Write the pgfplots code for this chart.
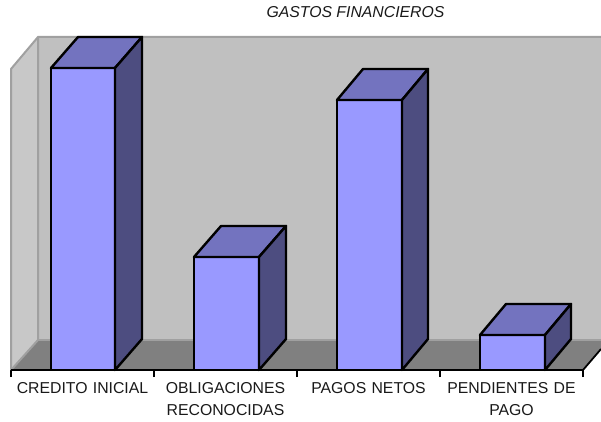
\documentclass[border=0pt]{standalone}
\usepackage{pgfplots}
\pgfplotsset{compat=1.18}
\usepackage{fontspec}
\setmainfont{Liberation Sans}
\definecolor{front}{HTML}{9999FF}
\definecolor{topc}{HTML}{7373BF}
\definecolor{sidec}{HTML}{4D4D80}
\definecolor{wall}{HTML}{C0C0C0}
\definecolor{swall}{HTML}{C8C8C8}
\definecolor{floorc}{HTML}{808080}
\definecolor{edge}{HTML}{A0A0A0}
\begin{document}
\begin{tikzpicture}[x=1pt,y=1pt]
\useasboundingbox (0,0) rectangle (601pt,421pt);
\begin{axis}[
  at={(0pt,0pt)},anchor=south west,
  scale only axis,width=601pt,height=421pt,
  xmin=0,xmax=601,ymin=-51,ymax=370,
  axis x line=middle,axis y line=none,
  axis line style={-,draw=none},
  xtick={82.5,225.5,368.5,511.5},
  xticklabels={{CREDITO INICIAL},{OBLIGACIONES\\RECONOCIDAS},{PAGOS NETOS},{PENDIENTES DE\\PAGO}},
  minor xtick={11,154,297,440,583},
  major tick length=0pt,minor tick length=7pt,
  tick align=outside,
  minor x tick style={black,line width=1.5pt},
  xticklabel style={anchor=north,yshift=-9pt,text width=150pt,align=center,
    font=\fontsize{15.8}{22}\selectfont,text=black!90},
  ytick=\empty,
  title={\textit{GASTOS FINANCIEROS}},
  title style={at={(axis cs:355.5,358.5)},anchor=center,yshift=-6.5pt,font=\fontsize{15.8}{19}\selectfont,text=black!90},
  clip=true,
]
% walls
\addplot[fill=wall,draw=none] coordinates {(38,333)(601,333)(601,30)(38,30)} -- cycle;
\addplot[fill=swall,draw=none] coordinates {(11,301)(38,333)(38,30)(11,0)} -- cycle;
\addplot[fill=floorc,draw=none] coordinates {(11,0)(38,30)(601,30)(601,21)(583,0)} -- cycle;
\addplot[draw=edge,line width=2pt] coordinates {(11,0)(11,301)(38,333)(601,333)};
\addplot[draw=edge,line width=2pt] coordinates {(38,333)(38,30)(11,0)};
\addplot[draw=edge,line width=1.4pt] coordinates {(38,30)(601,30)};
% bar 1
\addplot[fill=front,draw=black,line width=2.4pt,line join=round] coordinates {(51,0)(115,0)(115,302)(51,302)} -- cycle;
\addplot[fill=topc,draw=black,line width=2.4pt,line join=round] coordinates {(51,302)(115,302)(142,333)(78,333)} -- cycle;
\addplot[fill=sidec,draw=black,line width=2.4pt,line join=round] coordinates {(115,0)(142,31)(142,333)(115,302)} -- cycle;
% bar 2
\addplot[fill=front,draw=black,line width=2.4pt,line join=round] coordinates {(194,0)(259,0)(259,113)(194,113)} -- cycle;
\addplot[fill=topc,draw=black,line width=2.4pt,line join=round] coordinates {(194,113)(259,113)(286,144)(221,144)} -- cycle;
\addplot[fill=sidec,draw=black,line width=2.4pt,line join=round] coordinates {(259,0)(286,31)(286,144)(259,113)} -- cycle;
% bar 3
\addplot[fill=front,draw=black,line width=2.4pt,line join=round] coordinates {(337,0)(402,0)(402,270)(337,270)} -- cycle;
\addplot[fill=topc,draw=black,line width=2.4pt,line join=round] coordinates {(337,270)(402,270)(428,301)(363,301)} -- cycle;
\addplot[fill=sidec,draw=black,line width=2.4pt,line join=round] coordinates {(402,0)(428,31)(428,301)(402,270)} -- cycle;
% bar 4
\addplot[fill=front,draw=black,line width=2.4pt,line join=round] coordinates {(480,0)(545,0)(545,35)(480,35)} -- cycle;
\addplot[fill=topc,draw=black,line width=2.4pt,line join=round] coordinates {(480,35)(545,35)(571,66)(506,66)} -- cycle;
\addplot[fill=sidec,draw=black,line width=2.4pt,line join=round] coordinates {(545,0)(571,31)(571,66)(545,35)} -- cycle;
% axis line
\addplot[draw=black,line width=1.8pt] coordinates {(11,0)(583,0)(601,21)};
\end{axis}
\end{tikzpicture}
\end{document}
